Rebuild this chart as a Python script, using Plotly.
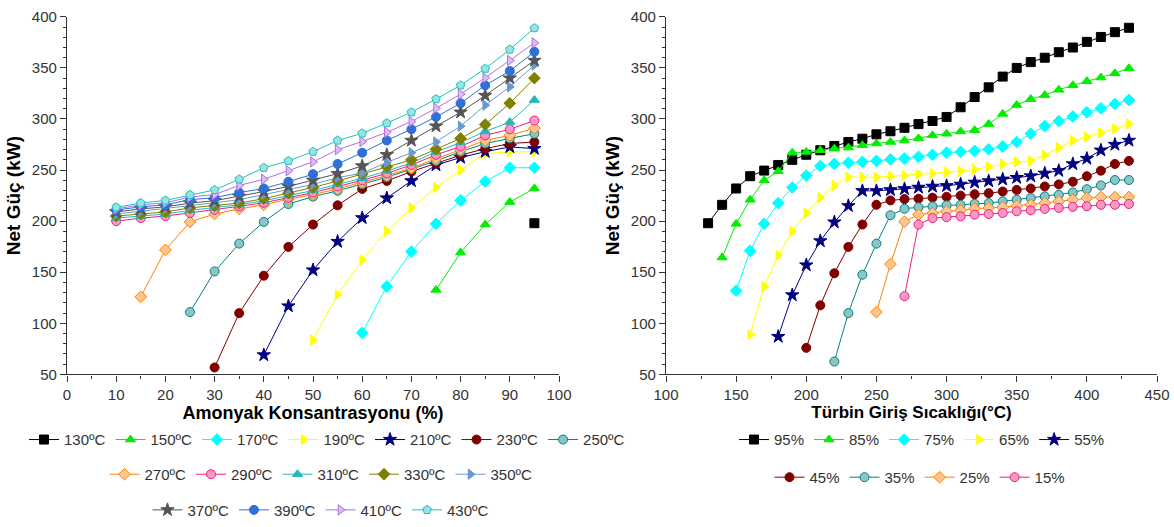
import plotly.graph_objects as go

# ---------------- LEFT: Net power vs ammonia concentration ----------------
conc = [10, 15, 20, 25, 30, 35, 40, 45, 50, 55, 60, 65, 70, 75, 80, 85, 90, 95]
left_temps = ["130ºC", "150ºC", "170ºC", "190ºC", "210ºC", "230ºC", "250ºC", "270ºC",
              "290ºC", "310ºC", "330ºC", "350ºC", "370ºC", "390ºC", "410ºC", "430ºC"]
# values for the last len(values) concentrations of conc
L130 = [198]
L150 = [132.7, 169.3, 196.7, 218.7, 232]
L170 = [90.7, 136, 170.2, 197.4, 220.3, 238.8, 252.3, 252.3]
L190 = [83.7, 128, 162, 190, 213, 233, 250, 266, 267.8, 268]
L210 = [69, 116.9, 152.1, 180, 203.2, 222.6, 239.4, 254.9, 262.3, 268, 272.7, 271]
L230 = [56.8, 110, 146.6, 174.8, 196.7, 215.5, 231.6, 239.4, 248.5, 256.5, 264.6, 271, 276, 277.5]
L250 = [111, 150.8, 178, 199.3, 216.8, 224, 229.7, 236, 243, 251, 259, 268, 276, 281, 285.6]
L270 = [126, 171.9, 199.3, 207, 212, 216, 221.6, 226, 231.6, 238, 244.6, 252, 261.3, 270, 279, 284, 291]
L290 = [200, 203, 205, 208, 211, 214.5, 218, 223, 228, 234, 240, 246.8, 255, 265, 273, 284, 290, 298.5]
L310 = [203, 204.8, 207, 210.6, 213, 216, 220, 225, 230, 236, 242, 249, 257, 267.8, 277, 287.8, 297, 318.6]
L330 = [205, 207, 209, 213, 215, 217.7, 222, 227.4, 233, 239.3, 246, 253.3, 260, 270.4, 281, 294.5, 315.4, 340]
L350 = [207, 209.7, 212, 215, 218, 221, 226, 230.6, 236, 242.6, 247, 257.5, 267, 277.5, 293, 313.5, 331.5, 352.8]
L370 = [209, 212, 214, 217.7, 220, 224.2, 229, 234, 240, 246.5, 254, 265, 279, 293, 306.6, 323, 340, 357.3]
L390 = [211, 214, 216, 221, 223, 228, 232, 238.6, 246, 256, 267, 279, 290, 302, 315.4, 333, 347, 365.8]
L410 = [212, 216, 218, 223.6, 226, 235, 241, 249.4, 258, 270, 278, 287, 297.5, 310.5, 324.4, 340.3, 357.3, 374.5]
L430 = [213.6, 217.7, 220.3, 225.8, 230.6, 241, 252.3, 259, 268, 279, 286, 296, 306.6, 319.5, 333, 349.3, 368, 389]
left_values = [L130, L150, L170, L190, L210, L230, L250, L270,
               L290, L310, L330, L350, L370, L390, L410, L430]

# ---------------- RIGHT: Net power vs turbine inlet temperature ----------------
temps = [130, 140, 150, 160, 170, 180, 190, 200, 210, 220, 230, 240, 250, 260, 270, 280,
         290, 300, 310, 320, 330, 340, 350, 360, 370, 380, 390, 400, 410, 420, 430]
right_conc = ["95%", "85%", "75%", "65%", "55%", "45%", "35%", "25%", "15%"]
R95 = [198, 216, 232, 244, 249.5, 255, 260, 265, 269.4, 273.6, 277.5, 280.7, 285, 288, 291.4, 295,
       298, 302, 311.5, 321.5, 331, 341.5, 350, 355.7, 360, 365.4, 370, 375.5, 380.3, 385, 389.3]
R85 = [164.4, 197.4, 221, 240, 248.8, 267, 267.8, 269.4, 271, 272, 274.3, 276, 277.5, 279,
       281, 284, 285.6, 287.8, 289, 295, 305, 313.7, 319.5, 323.4, 328.6, 333, 337, 340.6, 344.7, 349.6]
R75 = [132, 171, 197.4, 217.7, 233, 244.6, 254, 256, 257.2, 258, 259, 260.4, 261.3,
       263, 265, 267, 267.8, 268.8, 270.4, 273, 277.5, 285.6, 293, 298, 302.4, 306.6, 310.5, 314.7, 318.6]
R65 = [89, 136, 166.7, 190, 208, 223, 235, 243, 243, 243, 244, 244.6,
       245.8, 246.8, 247.8, 249, 250.7, 253.3, 256, 258, 259, 264.6, 272, 279, 282.4, 286.5, 290.4, 295]
R55 = [87, 127.7, 157, 180.6, 199, 215, 229.7, 229.7, 230.6, 231.6,
       233, 234, 234.6, 236, 238, 239.3, 241, 242.6, 244.2, 246.8, 249.4, 256, 261.3, 269.4, 275, 279]
R45 = [76, 117.6, 149, 174.8, 196.7, 216, 220.3, 221.6,
       222, 223, 223.8, 225, 226.4, 227.4, 229, 230.6, 232, 234, 236, 238.6, 244, 249.4, 256, 259]
R35 = [62.6, 110, 147.6, 178, 205.8, 212.2,
       213.6, 214.5, 215.5, 216, 217, 217.7, 219.4, 221, 222.6, 224.2, 225.8, 228, 231.3, 235, 240.3, 240.3]
R25 = [111, 158, 199.5,
       206.4, 208, 209.7, 210.6, 212.2, 213, 213.6, 215, 216, 217.7, 219.4, 221, 222.6, 223.6, 223.6, 223.6]
R15 = [126.6, 196.7, 203, 203.9, 204.8, 206.4, 207, 208, 209.7, 210.6, 212, 213, 214, 214.6, 216, 216, 216.8]
right_values = [R95, R85, R75, R65, R55, R45, R35, R25, R15]

# ---------------- styles ----------------
left_colors = ["#000000", "#00EE00", "#00FFFF", "#FFFF00", "#000080", "#800000", "#008080", "#FF8000",
               "#F01C80", "#26B8B8", "#808000", "#6A98D0", "#555555", "#2F6FD8", "#B070E0", "#20C0C0"]
left_symbols = ["square", "triangle-up", "diamond", "triangle-right", "star", "circle", "circle", "diamond",
                "circle", "triangle-up", "diamond", "triangle-right", "star", "circle", "triangle-right", "pentagon"]
half = {6, 7, 8, 14, 15}
left_rows = [0] * 7 + [1] * 5 + [2] * 4


def tint(hexc, f=0.55):
    r, g, b = int(hexc[1:3], 16), int(hexc[3:5], 16), int(hexc[5:7], 16)
    r = int(r + (255 - r) * f); g = int(g + (255 - g) * f); b = int(b + (255 - b) * f)
    return "#%02X%02X%02X" % (r, g, b)


FONT = "Liberation Sans, Arial, sans-serif"
fig = go.Figure()

for i, (name, vals) in enumerate(zip(left_temps, left_values)):
    col = left_colors[i]
    xs = conc[len(conc) - len(vals):]
    fill = tint(col) if i in half else col
    size = 10 if left_symbols[i] == "star" else 9
    fig.add_trace(go.Scatter(
        x=xs, y=vals, name=name, mode="lines+markers",
        line=dict(color=col, width=1),
        marker=dict(symbol=left_symbols[i], size=size, color=fill, line=dict(color=col, width=1)),
        xaxis="x", yaxis="y",
        legend=["legend", "legend2", "legend3"][left_rows[i]],
    ))

right_colors = left_colors[:9]
right_symbols = left_symbols[:9]
right_rows = [0] * 5 + [1] * 4
for i, (name, vals) in enumerate(zip(right_conc, right_values)):
    col = right_colors[i]
    xs = temps[len(temps) - len(vals):]
    fill = tint(col) if i in half else col
    size = 10 if right_symbols[i] == "star" else 9
    fig.add_trace(go.Scatter(
        x=xs, y=vals, name=name, mode="lines+markers",
        line=dict(color=col, width=1),
        marker=dict(symbol=right_symbols[i], size=size, color=fill, line=dict(color=col, width=1)),
        xaxis="x2", yaxis="y2",
        legend=["legend4", "legend5"][right_rows[i]],
    ))

W, H = 1174, 527
ydom = [1 - 378 / H, 1 - 17 / H]

axis_common = dict(
    showline=True, linecolor="#333333", linewidth=1.2, ticks="outside", ticklen=6,
    tickcolor="#333333", tickfont=dict(family=FONT, size=15, color="#333333"),
    showgrid=False, zeroline=False, automargin=False, mirror=False,
)

leg_common = dict(orientation="h", xanchor="center", yanchor="middle", bgcolor="rgba(0,0,0,0)",
                  font=dict(family=FONT, size=15, color="#333333"), itemwidth=30, tracegroupgap=0)

fig.update_layout(
    width=W, height=H, margin=dict(l=0, r=0, t=0, b=0),
    paper_bgcolor="white", plot_bgcolor="white",
    xaxis=dict(domain=[67 / W, 559 / W], range=[0, 100], dtick=10, anchor="y",
               minor=dict(dtick=5, ticklen=3, ticks="outside", tickcolor="#333333"),
               title=dict(text="<b>Amonyak Konsantrasyonu (%)</b>",
                          font=dict(family=FONT, size=18, color="#000000"), standoff=3),
               **axis_common),
    yaxis=dict(domain=ydom, range=[50, 400], dtick=50, anchor="x",
               minor=dict(dtick=10, ticklen=3, ticks="outside", tickcolor="#333333"),
               title=dict(text="<b>Net Güç (kW)</b>",
                          font=dict(family=FONT, size=19, color="#000000"), standoff=6),
               **axis_common),
    xaxis2=dict(domain=[666 / W, 1157 / W], range=[100, 450], dtick=50, anchor="y2",
                minor=dict(dtick=25, ticklen=3, ticks="outside", tickcolor="#333333"),
                title=dict(text="<b>Türbin Giriş Sıcaklığı(°C)</b>",
                           font=dict(family=FONT, size=17, color="#000000"), standoff=3),
                **axis_common),
    yaxis2=dict(domain=ydom, range=[50, 400], dtick=50, anchor="x2",
                minor=dict(dtick=10, ticklen=3, ticks="outside", tickcolor="#333333"),
                title=dict(text="<b>Net Güç (kW)</b>",
                           font=dict(family=FONT, size=19, color="#000000"), standoff=6),
                **axis_common),
    legend=dict(x=327 / W, y=1 - 444 / H, **leg_common),
    legend2=dict(x=321 / W, y=1 - 479 / H, **leg_common),
    legend3=dict(x=321 / W, y=1 - 515 / H, **leg_common),
    legend4=dict(x=922 / W, y=1 - 444 / H, **leg_common),
    legend5=dict(x=920 / W, y=1 - 482 / H, **leg_common),
    showlegend=True,
)

fig.write_html("out.html", config={"displayModeBar": False},
               post_script="document.body.style.margin='0';document.body.style.padding='0';")
